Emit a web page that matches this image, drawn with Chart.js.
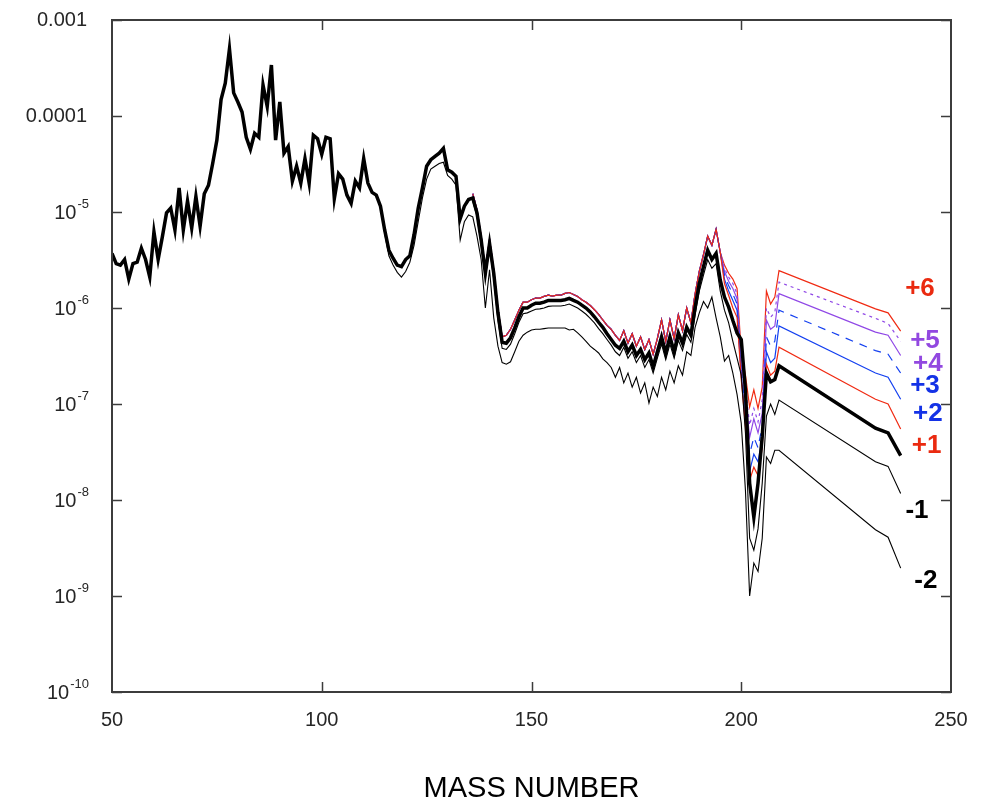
<!DOCTYPE html>
<html>
<head>
<meta charset="utf-8">
<script src="https://cdn.jsdelivr.net/npm/chart.js@4.4.1/dist/chart.umd.min.js"></script>
<style>
  body { margin: 0; background: #fff; }
  canvas { display: block; }
</style>
</head>
<body>
<canvas id="yieldChart" width="990" height="806"></canvas>
<script>
// mass numbers used by the curves (integer steps, then the straight tail nodes)
function range(a, b) {
  const out = [];
  for (let i = a; i <= b; i++) out.push(i);
  return out;
}
const tailMass = [232, 235, 238];
const massMain = range(50, 209).concat(tailMass);
const massPlus = range(136, 209).concat(tailMass);
const massMinus1 = range(136, 209).concat(tailMass);
const massMinus2 = range(114, 209).concat(tailMass);

// charge 0 (thick black)
const yieldMain = [
  3.7e-6, 2.9e-6, 2.8e-6, 3.2e-6, 2.0e-6, 2.9e-6, 3.0e-6, 4.2e-6, 3.2e-6, 2.1e-6,
  6.2e-6, 3.2e-6, 5.5e-6, 9.8e-6, 1.1e-5, 6.5e-6, 1.78e-5, 6.5e-6, 1.3e-5, 6.8e-6,
  1.45e-5, 7.1e-6, 1.55e-5, 1.9e-5, 3.2e-5, 5.6e-5, 1.48e-4, 2.2e-4, 5.0e-4, 1.74e-4,
  1.4e-4, 1.1e-4, 6.0e-5, 4.5e-5, 6.6e-5, 6.0e-5, 2.1e-4, 1.26e-4, 3.4e-4, 5.6e-5,
  1.4e-4, 4.1e-5, 4.8e-5, 2.1e-5, 3.0e-5, 2.0e-5, 3.6e-5, 2.0e-5, 6.3e-5, 5.8e-5,
  4.0e-5, 6.0e-5, 5.8e-5, 1.38e-5, 2.5e-5, 2.2e-5, 1.5e-5, 1.23e-5, 2.1e-5, 1.78e-5,
  3.6e-5, 2.0e-5, 1.6e-5, 1.5e-5, 1.15e-5, 6.5e-6, 4.0e-6, 3.3e-6, 2.8e-6, 2.7e-6,
  3.2e-6, 3.5e-6, 5.8e-6, 1.1e-5, 1.78e-5, 3.0e-5, 3.5e-5, 3.8e-5, 4.1e-5, 4.6e-5,
  2.75e-5, 2.6e-5, 2.35e-5, 8.5e-6, 1.15e-5, 1.35e-5, 1.4e-5, 9.8e-6, 5.1e-6, 2.3e-6,
  4.7e-6, 2.3e-6, 8.9e-7, 4.4e-7, 4.3e-7, 4.9e-7, 6.2e-7, 8.1e-7, 1.0e-6, 1.0e-6,
  1.07e-6, 1.12e-6, 1.12e-6, 1.15e-6, 1.2e-6, 1.2e-6, 1.2e-6, 1.2e-6, 1.22e-6, 1.26e-6,
  1.2e-6, 1.15e-6, 1.07e-6, 1.0e-6, 9.1e-7, 8.1e-7, 7.1e-7, 6.3e-7, 5.4e-7, 4.7e-7,
  4.1e-7, 3.8e-7, 4.5e-7, 3.5e-7, 4.1e-7, 3.2e-7, 3.7e-7, 2.9e-7, 3.4e-7, 2.45e-7,
  3.5e-7, 5.0e-7, 3.4e-7, 5.0e-7, 3.5e-7, 5.5e-7, 4.3e-7, 6.3e-7, 5.2e-7, 1.02e-6,
  1.8e-6, 2.7e-6, 4.0e-6, 3.2e-6, 3.7e-6, 1.95e-6, 1.3e-6, 1.02e-6, 7.4e-7, 5.5e-7,
  4.7e-7, 1.4e-7, 1.5e-8, 6.6e-9, 1.5e-8, 4.6e-8, 2.1e-7, 1.7e-7, 1.8e-7, 2.5e-7,
  5.6e-8, 5.0e-8, 2.9e-8
];

// positive charges run together from A=136 to 195
const bandPlus = [
  1.55e-5, 1.05e-5, 5.6e-6, 2.5e-6, 5.2e-6, 2.5e-6, 9.8e-7, 5.0e-7, 5.2e-7, 6.0e-7,
  7.5e-7, 9.5e-7, 1.15e-6, 1.15e-6, 1.22e-6, 1.27e-6, 1.27e-6, 1.32e-6, 1.36e-6, 1.33e-6,
  1.36e-6, 1.36e-6, 1.42e-6, 1.45e-6, 1.38e-6, 1.32e-6, 1.22e-6, 1.15e-6, 1.06e-6, 9.6e-7,
  8.6e-7, 7.5e-7, 6.6e-7, 6.0e-7, 5.2e-7, 4.6e-7, 5.8e-7, 4.3e-7, 5.4e-7, 4.0e-7,
  5.0e-7, 3.7e-7, 4.7e-7, 3.3e-7, 4.8e-7, 7.5e-7, 4.5e-7, 7.5e-7, 4.8e-7, 8.5e-7,
  5.8e-7, 1.0e-6, 7.0e-7, 1.4e-6, 2.4e-6, 3.6e-6, 5.6e-6, 4.5e-6, 6.6e-6, 3.8e-6
];

// A=196..209, then the tail at 232, 235, 238
const yieldPlus6 = [2.8e-6, 2.3e-6, 2.0e-6, 1.6e-6, 3.5e-7, 2.0e-7, 9.3e-8, 1.4e-7, 9.0e-8, 1.5e-7, 1.5e-6, 1.1e-6, 1.3e-6, 2.45e-6, 9.8e-7, 8.9e-7, 5.75e-7];
const yieldPlus5 = [2.6e-6, 2.1e-6, 1.8e-6, 1.4e-6, 3.0e-7, 1.5e-7, 6.0e-8, 9.0e-8, 6.5e-8, 1.1e-7, 1.0e-6, 8.0e-7, 9.0e-7, 1.86e-6, 7.8e-7, 6.9e-7, 4.5e-7];
const yieldPlus4 = [2.4e-6, 1.9e-6, 1.6e-6, 1.25e-6, 2.6e-7, 1.2e-7, 4.5e-8, 7.0e-8, 5.0e-8, 8.0e-8, 7.5e-7, 6.0e-7, 6.5e-7, 1.41e-6, 5.6e-7, 5.2e-7, 3.2e-7];
const yieldPlus3 = [2.2e-6, 1.7e-6, 1.4e-6, 1.1e-6, 2.2e-7, 9.0e-8, 3.0e-8, 4.5e-8, 3.5e-8, 6.0e-8, 5.0e-7, 4.0e-7, 4.5e-7, 9.5e-7, 3.6e-7, 3.3e-7, 2.1e-7];
const yieldPlus2 = [2.0e-6, 1.5e-6, 1.2e-6, 9.5e-7, 2.0e-7, 7.0e-8, 2.0e-8, 3.0e-8, 2.5e-8, 4.5e-8, 3.5e-7, 2.7e-7, 3.0e-7, 6.5e-7, 2.1e-7, 1.9e-7, 1.12e-7];
const yieldPlus1 = [1.8e-6, 1.35e-6, 1.0e-6, 8.0e-7, 1.8e-7, 6.0e-8, 1.6e-8, 2.2e-8, 1.8e-8, 3.5e-8, 2.6e-7, 2.0e-7, 2.2e-7, 3.9e-7, 1.12e-7, 1.0e-7, 5.5e-8];

const yieldMinus1 = [
  1.3e-5, 9.0e-6, 4.6e-6, 2.1e-6, 4.2e-6, 2.0e-6, 7.5e-7, 3.8e-7, 3.7e-7, 4.2e-7,
  5.4e-7, 7.1e-7, 8.7e-7, 8.9e-7, 9.3e-7, 9.7e-7, 9.8e-7, 1.0e-6, 1.04e-6, 1.05e-6,
  1.05e-6, 1.05e-6, 1.07e-6, 1.1e-6, 1.05e-6, 1.0e-6, 9.3e-7, 8.6e-7, 7.8e-7, 7.0e-7,
  6.1e-7, 5.4e-7, 4.7e-7, 4.1e-7, 3.5e-7, 3.2e-7, 3.9e-7, 3.0e-7, 3.5e-7, 2.7e-7,
  3.2e-7, 2.4e-7, 2.9e-7, 2.1e-7, 3.0e-7, 4.2e-7, 2.9e-7, 4.2e-7, 3.0e-7, 4.6e-7,
  3.6e-7, 5.3e-7, 4.4e-7, 8.5e-7, 1.5e-6, 2.2e-6, 3.2e-6, 2.6e-6, 2.9e-6, 1.5e-6,
  9.5e-7, 7.0e-7, 4.5e-7, 3.0e-7, 2.0e-7, 5.0e-8, 4.0e-9, 3.0e-9, 5.0e-9, 1.5e-8,
  7.5e-8, 1.0e-7, 7.8e-8, 1.1e-7,
  2.5e-8, 2.24e-8, 1.17e-8
];

const yieldMinus2 = [
  1.15e-5, 6.0e-6, 3.5e-6, 2.8e-6, 2.35e-6, 2.1e-6, 2.4e-6, 3.0e-6, 4.5e-6, 8.0e-6,
  1.4e-5, 2.2e-5, 2.8e-5, 3.0e-5, 3.2e-5, 3.3e-5, 2.4e-5, 2.2e-5, 1.9e-5, 5.1e-6,
  7.9e-6, 9.3e-6, 8.9e-6, 5.6e-6, 3.2e-6, 1.0e-6, 2.5e-6, 7.9e-7, 4.0e-7, 2.7e-7,
  2.6e-7, 2.75e-7, 3.5e-7, 4.5e-7, 5.2e-7, 5.6e-7, 5.9e-7, 6.0e-7, 6.0e-7, 6.1e-7,
  6.2e-7, 6.2e-7, 6.2e-7, 6.2e-7, 6.2e-7, 5.9e-7, 6.0e-7, 5.5e-7, 5.0e-7, 4.5e-7,
  4.0e-7, 3.7e-7, 3.4e-7, 2.95e-7, 2.7e-7, 2.4e-7, 1.9e-7, 2.4e-7, 1.66e-7, 2.1e-7,
  1.5e-7, 1.9e-7, 1.3e-7, 1.66e-7, 1.02e-7, 1.5e-7, 1.2e-7, 1.9e-7, 1.4e-7, 2.2e-7,
  1.66e-7, 2.5e-7, 2.0e-7, 3.5e-7, 3.2e-7, 6.3e-7, 8.9e-7, 1.17e-6, 1.0e-6, 1.3e-6,
  7.9e-7, 5.0e-7, 2.8e-7, 3.2e-7, 2.1e-7, 1.26e-7, 6.3e-8, 1.26e-8, 1.0e-9, 2.2e-9,
  1.8e-9, 4.0e-9, 2.8e-8, 2.4e-8, 3.3e-8, 3.3e-8,
  4.9e-9, 4.1e-9, 1.95e-9
];

// charge labels at the right end of the tails
const chargeLabels = ['+6', '+5', '+4', '+3', '+2', '+1', '-1', '-2'];
const labelMass = [242.6, 243.8, 244.5, 243.8, 244.5, 244.2, 241.9, 244.0];
const labelYield = [1.58e-6, 4.6e-7, 2.6e-7, 1.55e-7, 7.9e-8, 3.7e-8, 7.8e-9, 1.45e-9];
const labelColors = ['#ea2a10', '#9248e0', '#9248e0', '#1432e6', '#1432e6', '#ea2a10', '#000', '#000'];

const massTicks = [50, 100, 150, 200, 250];
const yieldTicks = [1e-3, 1e-4, 1e-5, 1e-6, 1e-7, 1e-8, 1e-9, 1e-10];
const yieldTickText = ['0.001', '0.0001', '-5', '-6', '-7', '-8', '-9', '-10'];

function points(masses, values) {
  return masses.map((m, i) => ({ x: m, y: values[i] }));
}

const RED = '#f02a12', PURPLE = '#9048e6', BLUE = '#1440f0';

function curve(label, masses, values, color, width, dash, order) {
  return {
    label: label,
    data: points(masses, values),
    borderColor: color,
    borderWidth: width,
    borderDash: dash,
    pointRadius: 0,
    tension: 0,
    fill: false,
    order: order
  };
}

const FONT = '"Liberation Sans", Arial, sans-serif';

const axisPlugin = {
  id: 'axisPlugin',
  afterDraw(chart) {
    const ctx = chart.ctx;
    const a = chart.chartArea;
    const xs = chart.scales.x, ys = chart.scales.y;
    ctx.save();
    ctx.strokeStyle = '#3c3c3c';
    ctx.lineWidth = 2;
    ctx.strokeRect(a.left, a.top, a.right - a.left, a.bottom - a.top);

    ctx.lineWidth = 1.5;
    ctx.beginPath();
    yieldTicks.forEach(v => {
      const y = Math.round(ys.getPixelForValue(v)) + 0.5;
      ctx.moveTo(a.left, y); ctx.lineTo(a.left + 10, y);
      ctx.moveTo(a.right - 10, y); ctx.lineTo(a.right, y);
    });
    massTicks.slice(1, -1).forEach(m => {
      const x = Math.round(xs.getPixelForValue(m)) + 0.5;
      ctx.moveTo(x, a.bottom); ctx.lineTo(x, a.bottom - 10);
      ctx.moveTo(x, a.top); ctx.lineTo(x, a.top + 10);
    });
    ctx.stroke();

    // y tick labels, with superscript exponents
    ctx.fillStyle = '#262626';
    ctx.textBaseline = 'middle';
    yieldTicks.forEach((v, i) => {
      const y = ys.getPixelForValue(v);
      const t = yieldTickText[i];
      const right = 89;
      if (i < 2) {
        ctx.font = '20px ' + FONT;
        ctx.textAlign = 'right';
        ctx.fillText(t, right - 2, y);
      } else {
        ctx.font = '13px ' + FONT;
        const supW = ctx.measureText(t).width;
        ctx.textAlign = 'left';
        ctx.fillText(t, right - supW, y - 8);
        ctx.font = '20px ' + FONT;
        ctx.textAlign = 'right';
        ctx.fillText('10', right - supW - 1, y + 1);
      }
    });

    // x tick labels
    ctx.font = '20px ' + FONT;
    ctx.textAlign = 'center';
    massTicks.forEach(m => {
      ctx.fillText(String(m), xs.getPixelForValue(m), 720);
    });

    // axis title
    ctx.font = '29px ' + FONT;
    ctx.fillStyle = '#000';
    ctx.fillText('MASS NUMBER', (a.left + a.right) / 2, 789);

    // charge labels
    ctx.font = 'bold 26px ' + FONT;
    chargeLabels.forEach((t, i) => {
      ctx.fillStyle = labelColors[i];
      ctx.fillText(t, xs.getPixelForValue(labelMass[i]), ys.getPixelForValue(labelYield[i]));
    });
    ctx.restore();
  }
};

const ctx = document.getElementById('yieldChart').getContext('2d');
new Chart(ctx, {
  type: 'line',
  data: {
    datasets: [
      curve('0', massMain, yieldMain, '#000', 3.5, [], 0),
      curve('+6', massPlus, bandPlus.concat(yieldPlus6), RED, 1.2, [], 7),
      curve('+5', massPlus, bandPlus.concat(yieldPlus5), PURPLE, 1.2, [3, 4], 6),
      curve('+4', massPlus, bandPlus.concat(yieldPlus4), PURPLE, 1.2, [], 5),
      curve('+3', massPlus, bandPlus.concat(yieldPlus3), BLUE, 1.2, [8, 7], 4),
      curve('+2', massPlus, bandPlus.concat(yieldPlus2), BLUE, 1.2, [], 3),
      curve('+1', massPlus, bandPlus.concat(yieldPlus1), RED, 1.2, [], 2),
      curve('-1', massMinus1, yieldMinus1, '#000', 1.1, [], 1),
      curve('-2', massMinus2, yieldMinus2, '#000', 1.1, [], 1)
    ]
  },
  options: {
    responsive: false,
    animation: false,
    layout: { padding: { top: 20, right: 39, left: 0, bottom: 0 } },
    plugins: { legend: { display: false }, tooltip: { enabled: false } },
    scales: {
      x: {
        type: 'linear', min: 50, max: 250,
        grid: { display: false }, border: { display: false },
        ticks: { display: false },
        afterFit: s => { s.height = 114; }
      },
      y: {
        type: 'logarithmic', min: 1e-10, max: 1e-3,
        grid: { display: false }, border: { display: false },
        ticks: { display: false },
        afterFit: s => { s.width = 112; }
      }
    }
  },
  plugins: [axisPlugin]
});
</script>
</body>
</html>
